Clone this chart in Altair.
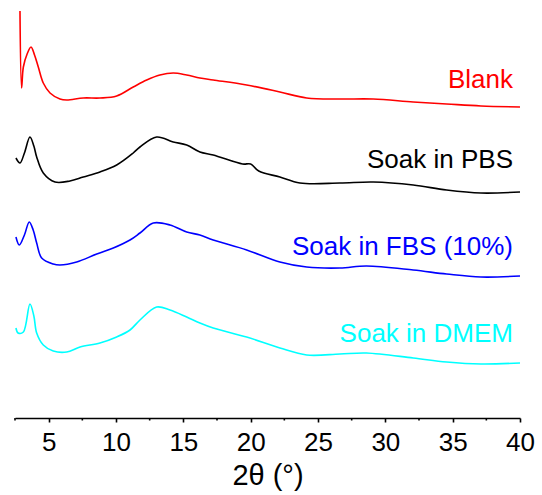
import altair as alt
import pandas as pd

# ---- data (2theta in degrees, intensity in arbitrary offset units) ----
series_names = ["Blank", "Soak in PBS", "Soak in FBS (10%)", "Soak in DMEM"]
series_colors = ["#ff0000", "#000000", "#0000ff", "#00ffff"]

blank_x = [2.87, 2.99, 3.12, 3.40, 3.69, 3.95, 4.23, 4.60, 5.10, 5.84, 6.34, 7.57, 8.81,
           10.05, 11.28, 12.28, 13.26, 14.25, 15.25, 16.23, 17.22, 19.70, 22.17, 24.16,
           26.63, 29.10, 32.07, 34.55, 37.10, 40.00]
blank_y = [407, 330, 351, 364, 371, 363, 351, 335, 325, 319, 318, 320, 320,
           322, 331, 338, 343, 345, 343, 340, 338, 333, 326, 320,
           319, 319, 316, 314, 312, 311]

pbs_x = [2.57, 2.87, 3.20, 3.61, 3.90, 4.11, 4.60, 5.47, 6.58, 7.57, 8.81, 10.05, 11.28,
         11.78, 13.02, 14.25, 15.25, 16.23, 17.22, 19.40, 20.00, 20.60, 22.17, 23.66,
         26.63, 29.10, 32.07, 34.55, 37.10, 40.00]
pbs_y = [260, 255, 265, 281, 272, 261, 245, 236, 237, 241, 246, 253, 265,
         271, 281, 276, 273, 266, 263, 254, 254, 247, 241, 235,
         235, 236, 233, 228, 225, 226]

fbs_x = [2.57, 2.82, 3.20, 3.56, 3.85, 4.11, 4.48, 5.34, 5.84, 7.08, 8.57, 9.80, 11.04,
         11.78, 12.77, 14.01, 15.25, 16.23, 17.22, 19.70, 22.17, 24.16, 26.63, 28.60,
         32.07, 34.55, 37.10, 40.00]
fbs_y = [181, 173, 183, 196, 188, 175, 160, 154, 153, 156, 164, 170, 178,
         185, 195, 193, 186, 183, 178, 168, 156, 151, 150, 152,
         148, 144, 141, 142]

dmem_x = [2.57, 2.73, 3.12, 3.61, 3.90, 4.11, 4.60, 5.34, 6.34, 7.33, 8.81, 10.05, 11.04,
          11.78, 13.02, 14.01, 15.25, 16.23, 17.22, 19.70, 22.17, 24.16, 26.63, 28.60,
          32.07, 34.55, 37.10, 40.00]
dmem_y = [90, 85, 86, 114, 102, 85, 73, 67, 66, 71, 75, 81, 88,
          98, 111, 108, 101, 95, 90, 81, 70, 63, 64, 65,
          60, 56, 54, 55]

# label anchors (data units)
label_x = [40, 40, 40, 40]
label_y = [330, 250, 163, 76]

major_ticks = [5, 10, 15, 20, 25, 30, 35, 40]
minor_ticks = [2.5, 7.5, 12.5, 17.5, 22.5, 27.5, 32.5, 37.5]

# ---- build tables ----
rows = []
for name, xs, ys in zip(series_names, [blank_x, pbs_x, fbs_x, dmem_x],
                        [blank_y, pbs_y, fbs_y, dmem_y]):
    for i, (a, b) in enumerate(zip(xs, ys)):
        rows.append({"series": name, "x": a, "y": b, "order": i})
df = pd.DataFrame(rows)
labels = pd.DataFrame({"series": series_names, "x": label_x, "y": label_y})
minor = pd.DataFrame({"x": minor_ticks})

W, H = 505, 413
xscale = alt.Scale(domain=[2.5, 40], nice=False, zero=False)
yscale = alt.Scale(domain=[0, 413], nice=False, zero=False)
cscale = alt.Scale(domain=series_names, range=series_colors)

lines = alt.Chart(df).mark_line(strokeWidth=1.6, interpolate="catmull-rom").encode(
    x=alt.X("x:Q", scale=xscale,
            axis=alt.Axis(values=major_ticks, title="2θ (°)", grid=False,
                          domainColor="black", domainWidth=1.6,
                          tickColor="black", tickWidth=1.6, tickSize=4,
                          labelFont="Liberation Sans", labelFontSize=26,
                          labelColor="black", labelPadding=7, labelFlush=False,
                          titleFont="Liberation Sans", titleFontSize=29,
                          titleFontWeight="normal", titleColor="black",
                          titlePadding=6)),
    y=alt.Y("y:Q", scale=yscale, axis=None),
    color=alt.Color("series:N", scale=cscale, legend=None),
    order="order:Q",
)

texts = alt.Chart(labels).mark_text(
    align="right", baseline="alphabetic", dx=-7,
    font="Liberation Sans", fontSize=26
).encode(
    x=alt.X("x:Q", scale=xscale),
    y=alt.Y("y:Q", scale=yscale),
    color=alt.Color("series:N", scale=cscale, legend=None),
    text="series:N",
)

minor_rules = alt.Chart(minor).mark_rule(color="black", strokeWidth=1.6).encode(
    x=alt.X("x:Q", scale=xscale),
    y=alt.value(H),
    y2=alt.value(H + 2.5),
)

chart = alt.layer(lines, texts, minor_rules).properties(
    width=W, height=H,
    autosize=alt.AutoSizeParams(type="none"),
    padding={"left": 15, "top": 5, "right": 22, "bottom": 77},
).configure_view(stroke=None)

chart.save("out.html", embed_options={"renderer": "svg", "actions": False})
